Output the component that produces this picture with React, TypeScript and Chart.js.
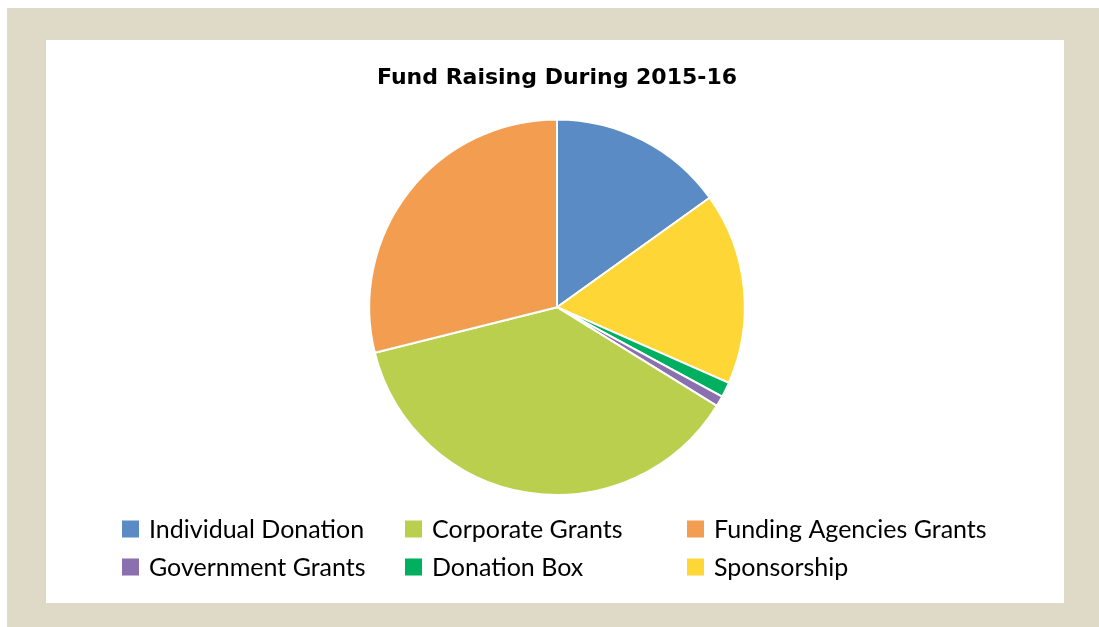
import React, { useEffect, useRef } from "react";
import { Chart, registerables } from "chart.js";

Chart.register(...registerables);

const TITLE = "Fund Raising During 2015-16";

// Slices in clockwise order starting at 12 o'clock (percent share)
const categories = [
  "Individual Donation",
  "Sponsorship",
  "Donation Box",
  "Government Grants",
  "Corporate Grants",
  "Funding Agencies Grants",
];
const values = [15.1, 16.5, 1.3, 0.9, 37.3, 28.9];
const colors = ["#5a8bc4", "#fed636", "#00b060", "#8a70ae", "#b9cf4d", "#f39d50"];

// Legend order (row-major, 3 columns)
const legendOrder = [
  "Individual Donation",
  "Corporate Grants",
  "Funding Agencies Grants",
  "Government Grants",
  "Donation Box",
  "Sponsorship",
];

const FONT = "Lato, 'Open Sans', sans-serif";
const TITLE_FONT = "'DejaVu Sans', 'Open Sans', sans-serif";

const gridLegend = {
  id: "gridLegend",
  afterDraw(chart: any) {
    const ctx = chart.ctx;
    const labels: string[] = chart.data.labels;
    const bg: string[] = chart.data.datasets[0].backgroundColor;
    const colX = [76, 359, 641];
    const rowY = [489, 527];
    const box = 17;
    ctx.save();
    ctx.font = `25px ${FONT}`;
    ctx.textBaseline = "middle";
    ctx.textAlign = "left";
    legendOrder.forEach((name, i) => {
      const idx = labels.indexOf(name);
      const cx = colX[i % 3];
      const cy = rowY[Math.floor(i / 3)];
      ctx.fillStyle = bg[idx];
      ctx.fillRect(cx, cy - box / 2, box, box);
      ctx.fillStyle = "#000";
      ctx.fillText(name, cx + 27, cy + 1);
    });
    ctx.restore();
  },
};

export default function App() {
  const ref = useRef<HTMLCanvasElement | null>(null);
  useEffect(() => {
    if (!ref.current) return;
    const chart = new Chart(ref.current, {
      type: "pie",
      data: {
        labels: categories,
        datasets: [
          {
            data: values,
            backgroundColor: colors,
            borderColor: "#ffffff",
            borderWidth: 2,
          },
        ],
      },
      options: {
        animation: false,
        responsive: false,
        devicePixelRatio: 1,
        layout: { padding: { left: 4, right: 0, top: 0, bottom: 107 } },
        plugins: {
          legend: { display: false },
          tooltip: { enabled: false },
          title: {
            display: true,
            text: TITLE,
            color: "#000",
            font: { family: TITLE_FONT, size: 22, weight: "bold", lineHeight: 1.2 },
            padding: { top: 25, bottom: 27 },
          },
        },
      },
      plugins: [gridLegend],
    });
    return () => chart.destroy();
  }, []);

  return (
    <div
      style={{
        position: "fixed",
        left: 0,
        top: 0,
        width: 1099,
        height: 627,
        background: "#ffffff",
      }}
    >
      <div
        style={{
          position: "absolute",
          left: 7,
          top: 8,
          width: 1092,
          height: 619,
          background: "#dfd9c8",
        }}
      />
      <div
        style={{
          position: "absolute",
          left: 46,
          top: 40,
          width: 1018,
          height: 563,
          background: "#ffffff",
        }}
      >
        <canvas ref={ref} width={1018} height={563} style={{ display: "block" }} />
      </div>
    </div>
  );
}
